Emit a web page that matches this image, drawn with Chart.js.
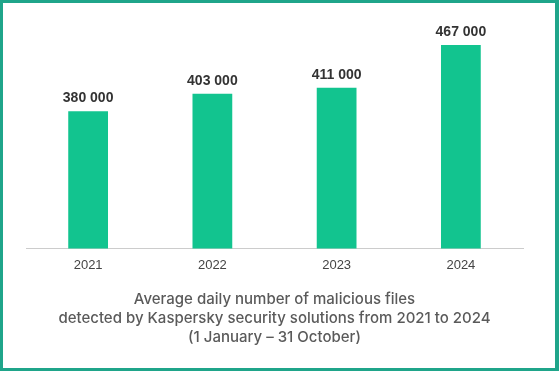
<html>
    <head>
        <script src="https://cdn.jsdelivr.net/npm/chart.js"></script>
        <style>
            body { margin: 0; background: #fff; }
            #frame {
                box-sizing: border-box;
                width: 559px;
                height: 371px;
                border: 3px solid #1fa58a;
                border-right-width: 4px;
            }
        </style>
    </head>
    <body>
        <div id="frame">
            <canvas id="malwareChart" width="552" height="365"></canvas>
        </div>

        <script>
            const YEARS = ['2021', '2022', '2023', '2024']
            const DAILY_FILES = [380000, 403000, 411000, 467000]
            const TITLE_LINES = [
                'Average daily number of malicious files',
                'detected by Kaspersky security solutions from 2021 to 2024',
                '(1 January \u2013 31 October)',
            ]

            function formatThousands(v) {
                return String(v).replace(/\B(?=(\d{3})+(?!\d))/g, ' ')
            }

            // draw the value above each bar
            const valueLabels = {
                id: 'valueLabels',
                afterDatasetsDraw(chart) {
                    const { ctx } = chart
                    const meta = chart.getDatasetMeta(0)
                    ctx.save()
                    ctx.font = 'bold 14px "Liberation Sans", Arial, sans-serif'
                    ctx.fillStyle = '#333333'
                    ctx.textAlign = 'center'
                    ctx.textBaseline = 'alphabetic'
                    meta.data.forEach((bar, idx) => {
                        ctx.fillText(formatThousands(DAILY_FILES[idx]), bar.x, bar.y - 9)
                    })
                    ctx.restore()
                },
            }

            new Chart(document.getElementById('malwareChart'), {
                type: 'bar',
                data: {
                    labels: YEARS,
                    datasets: [
                        {
                            label: 'Average daily malicious files',
                            data: DAILY_FILES,
                            backgroundColor: '#12c48f',
                            categoryPercentage: 1,
                            barPercentage: 0.32,
                        },
                    ],
                },
                options: {
                    responsive: false,
                    animation: false,
                    layout: {
                        padding: { left: 23, right: 32, top: 17, bottom: 21 },
                    },
                    scales: {
                        x: {
                            grid: { display: false },
                            border: { display: true, color: '#cccccc', width: 1 },
                            ticks: {
                                padding: 1,
                                color: '#444444',
                                font: { family: '"Liberation Sans", Arial, sans-serif', size: 13 },
                            },
                        },
                        y: {
                            display: false,
                            min: 200000,
                            max: 500000,
                        },
                    },
                    plugins: {
                        legend: { display: false },
                        tooltip: { enabled: false },
                        title: {
                            display: true,
                            position: 'bottom',
                            text: TITLE_LINES,
                            color: '#5a5a5a',
                            font: { family: 'Inter', size: 15, weight: '500', lineHeight: '19px' },
                            padding: { top: 16, bottom: 0 },
                        },
                    },
                },
                plugins: [valueLabels],
            })
        </script>
    </body>
</html>
